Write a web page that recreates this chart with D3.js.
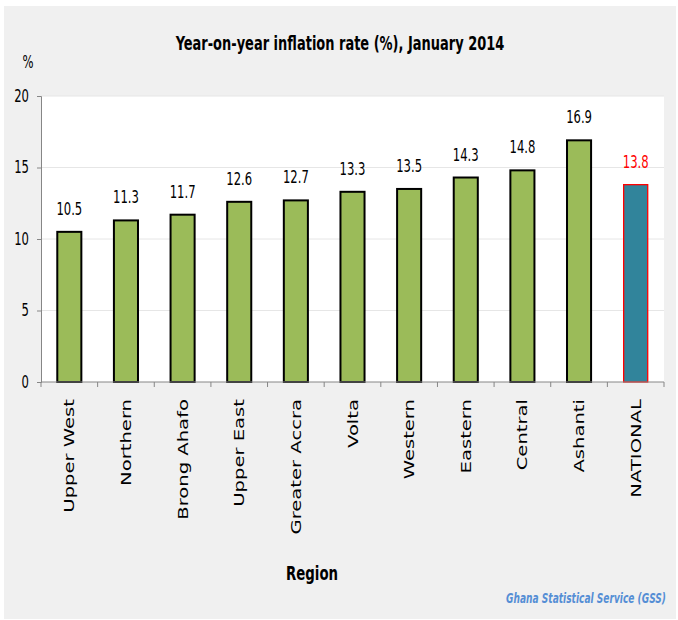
<!DOCTYPE html>
<html>
<head>
<meta charset="utf-8">
<script src="https://cdn.jsdelivr.net/npm/d3@7"></script>
<style>
  html, body { margin: 0; padding: 0; background: #ffffff; }
  svg { display: block; }
</style>
</head>
<body>
<div id="chart"></div>
<script>
// données
const regions = ["Upper West", "Northern", "Brong Ahafo", "Upper East", "Greater Accra",
                 "Volta", "Western", "Eastern", "Central", "Ashanti", "NATIONAL"];
const inflation = [10.5, 11.3, 11.7, 12.6, 12.7, 13.3, 13.5, 14.3, 14.8, 16.9, 13.8];
const yTicks = [0, 5, 10, 15, 20];

const width = 678, height = 620;
const narrow = "'DejaVu Sans Condensed', 'Liberation Sans Narrow', sans-serif";
const squeeze = 0.76; // le texte horizontal de l'original est comprimé

const svg = d3.select("#chart").append("svg")
    .attr("width", width)
    .attr("height", height);

// fond gris de la zone du graphique
svg.append("rect")
    .attr("x", 4).attr("y", 6)
    .attr("width", 672).attr("height", 613)
    .attr("fill", "#f0f0f0");

const plot = { left: 41, right: 664, top: 96, bottom: 382 };

// zone de tracé blanche
svg.append("rect")
    .attr("x", plot.left).attr("y", plot.top)
    .attr("width", plot.right - plot.left).attr("height", plot.bottom - plot.top)
    .attr("fill", "#ffffff");

const x = d3.scaleBand()
    .domain(regions)
    .range([plot.left, plot.right])
    .paddingInner(0.575)
    .paddingOuter(0.2875);

const y = d3.scaleLinear()
    .domain([0, 20])
    .range([plot.bottom, plot.top]);

// lignes de grille
svg.append("g")
    .selectAll("line")
    .data(yTicks.filter(d => d > 0))
    .join("line")
    .attr("x1", plot.left).attr("x2", plot.right)
    .attr("y1", d => y(d)).attr("y2", d => y(d))
    .attr("stroke", "#e6e6e6")
    .attr("stroke-width", 1);

// axe Y
const yAxis = svg.append("g")
    .attr("transform", `translate(${plot.left},0)`)
    .call(d3.axisLeft(y).tickValues(yTicks).tickSize(4).tickPadding(0));
yAxis.select(".domain").attr("stroke", "#868686");
yAxis.selectAll(".tick line").attr("stroke", "#868686");
yAxis.selectAll(".tick text")
    .attr("x", 0)
    .attr("transform", `translate(-12,0) scale(${squeeze},1)`)
    .attr("font-family", narrow)
    .attr("font-size", 17)
    .attr("fill", "#000");

// barres
svg.append("g")
    .selectAll("rect")
    .data(regions)
    .join("rect")
    .attr("x", d => x(d))
    .attr("y", (d, i) => y(inflation[i]))
    .attr("width", x.bandwidth())
    .attr("height", (d, i) => y(0) - y(inflation[i]))
    .attr("fill", d => d === "NATIONAL" ? "#31849b" : "#9bbb59")
    .attr("stroke", d => d === "NATIONAL" ? "#ff0000" : "#000000")
    .attr("stroke-width", d => d === "NATIONAL" ? 1.3 : 2);

// axe X (trait et graduations entre les catégories)
svg.append("line")
    .attr("x1", plot.left).attr("x2", plot.right)
    .attr("y1", plot.bottom).attr("y2", plot.bottom)
    .attr("stroke", "#868686");

const boundaries = d3.range(regions.length + 1).map(i => plot.left + i * x.step());
svg.append("g")
    .selectAll("line")
    .data(boundaries)
    .join("line")
    .attr("x1", d => d).attr("x2", d => d)
    .attr("y1", plot.bottom).attr("y2", plot.bottom + 5)
    .attr("stroke", "#868686");

// étiquettes de catégories (verticales, étirées)
svg.append("g")
    .selectAll("text")
    .data(regions)
    .join("text")
    .attr("transform", d => `translate(${x(d) + x.bandwidth() / 2},399) rotate(-90) scale(1.4,1)`)
    .attr("dy", "0.36em")
    .attr("text-anchor", "end")
    .attr("font-family", "'DejaVu Sans', Verdana, sans-serif")
    .attr("font-size", 14)
    .attr("fill", "#000")
    .text(d => d);

// valeurs au-dessus des barres
svg.append("g")
    .selectAll("text")
    .data(regions)
    .join("text")
    .attr("transform", (d, i) => `translate(${x(d) + x.bandwidth() / 2},${y(inflation[i]) - 17}) scale(${squeeze},1)`)
    .attr("text-anchor", "middle")
    .attr("font-family", narrow)
    .attr("font-size", 17)
    .attr("fill", d => d === "NATIONAL" ? "#ff0000" : "#000")
    .text((d, i) => inflation[i].toFixed(1));

// titre
svg.append("text")
    .attr("transform", "translate(340,50) scale(0.76,1)")
    .attr("text-anchor", "middle")
    .attr("font-family", narrow)
    .attr("font-weight", "bold")
    .attr("font-size", 19)
    .text("Year-on-year inflation rate (%), January 2014");

// unité
svg.append("text")
    .attr("transform", `translate(28,68) scale(${squeeze},1)`)
    .attr("text-anchor", "middle")
    .attr("font-family", narrow)
    .attr("font-size", 17)
    .text("%");

// titre de l'axe X
svg.append("text")
    .attr("transform", "translate(312,580) scale(0.78,1)")
    .attr("text-anchor", "middle")
    .attr("font-family", narrow)
    .attr("font-weight", "bold")
    .attr("font-size", 19)
    .text("Region");

// source
svg.append("text")
    .attr("transform", "translate(666,603) scale(0.72,1)")
    .attr("text-anchor", "end")
    .attr("font-family", narrow)
    .attr("font-style", "italic")
    .attr("font-weight", "bold")
    .attr("font-size", 14)
    .attr("fill", "#558ed5")
    .text("Ghana Statistical Service (GSS)");
</script>
</body>
</html>
